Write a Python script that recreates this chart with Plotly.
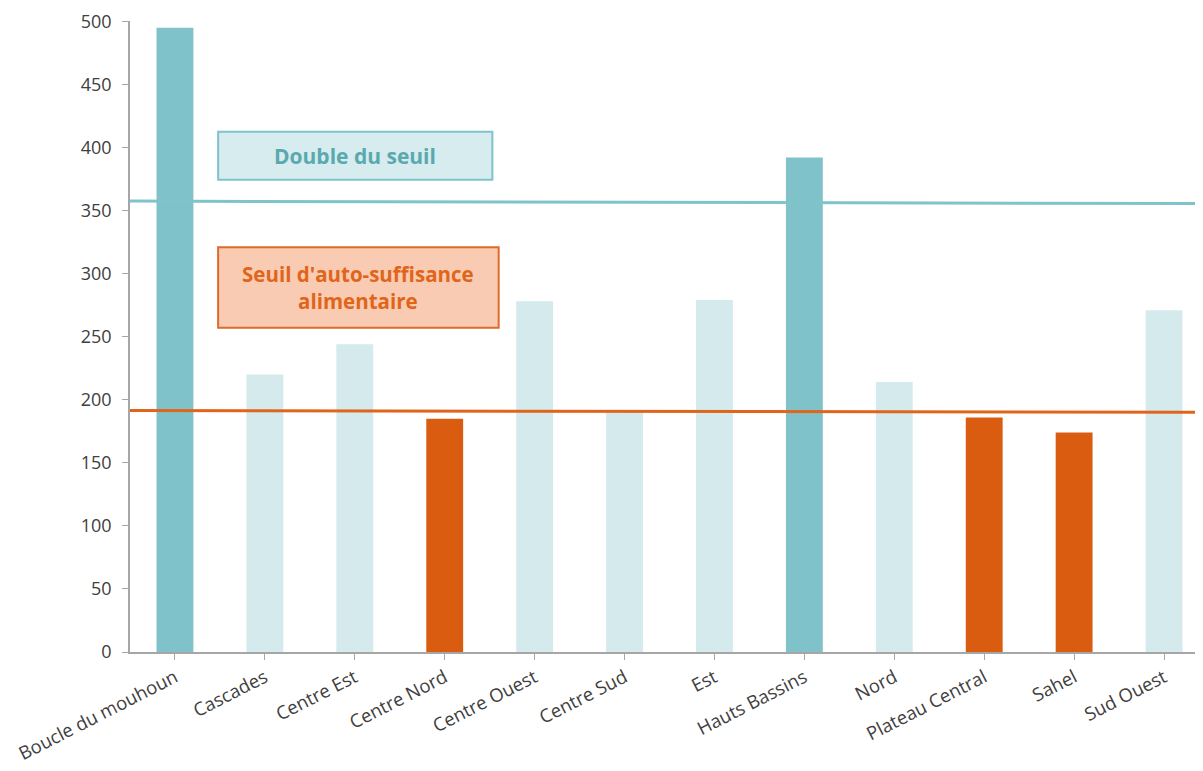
import plotly.graph_objects as go

regions = ["Boucle du mouhoun", "Cascades", "Centre Est", "Centre Nord", "Centre Ouest",
           "Centre Sud", "Est", "Hauts Bassins", "Nord", "Plateau Central", "Sahel", "Sud Ouest"]
values = [495, 220, 244, 185, 278, 190, 279, 392, 214, 186, 174, 271]
seuil_double = [357.5, 355.5]
seuil = [191.5, 190]
ytick_vals = [0, 50, 100, 150, 200, 250, 300, 350, 400, 450, 500]

DARK = "#80c2ca"
LIGHT = "#d5eaed"
ORANGE = "#da5c10"

colors = []
for v in values:
    if v >= seuil_double[1]:
        colors.append(DARK)
    elif v < seuil[1]:
        colors.append(ORANGE)
    else:
        colors.append(LIGHT)

fig = go.Figure()
fig.add_trace(go.Bar(x=list(range(len(regions))), y=values, marker_color=colors,
                     marker_line_width=0, width=0.41, showlegend=False))
fig.add_trace(go.Scatter(x=[-0.5, len(regions) - 0.5], y=seuil_double, mode="lines",
                         line=dict(color="#7fc3cb", width=3), showlegend=False))
fig.add_trace(go.Scatter(x=[-0.5, len(regions) - 0.5], y=seuil, mode="lines",
                         line=dict(color="#e0651a", width=3), showlegend=False))

# Label boxes
fig.add_shape(type="rect", xref="x", yref="y", x0=0.48, x1=3.53, y0=374.5, y1=412.5,
              fillcolor="#d6ecef", line=dict(color="#7fc3cb", width=2), layer="above")
fig.add_annotation(x=2.005, y=393.5, xref="x", yref="y", text="<b>Double du seuil</b>",
                   showarrow=False, font=dict(family="Open Sans", size=21, color="#5aa9ae"))
fig.add_shape(type="rect", xref="x", yref="y", x0=0.48, x1=3.6, y0=257, y1=321,
              fillcolor="#f9cbb2", line=dict(color="#e06a2a", width=2), layer="above")
fig.add_annotation(x=2.04, y=289, xref="x", yref="y",
                   text="<b>Seuil d'auto-suffisance<br>alimentaire</b>",
                   showarrow=False, font=dict(family="Open Sans", size=20.5, color="#e0651a"))

fig.update_layout(
    width=1203, height=771,
    margin=dict(l=122, r=2, t=13, b=127),
    paper_bgcolor="white", plot_bgcolor="white",
    font=dict(family="Open Sans", color="#404040"),
    bargap=0.58,
)
fig.update_xaxes(range=[-0.5, len(regions) - 0.5], tickmode="array",
                 tickvals=list(range(len(regions))), ticktext=regions,
                 tickangle=-27, tickfont=dict(size=18.5, color="#404040"),
                 showline=True, linecolor="#a6a6a6", linewidth=1.5,
                 ticks="outside", ticklen=6, tickcolor="#a6a6a6", tickson="boundaries",
                 showgrid=False, zeroline=False, automargin=False)
fig.update_yaxes(range=[0, 500.3], tickmode="array", tickvals=ytick_vals,
                 tickfont=dict(size=18, color="#404040"), ticklabelstandoff=7,
                 ticklabeloverflow="allow", automargin=False,
                 showline=True, linecolor="#a6a6a6", linewidth=1.5,
                 ticks="outside", ticklen=6, tickcolor="#a6a6a6",
                 showgrid=False, zeroline=False)

fig.write_html("out.html")
